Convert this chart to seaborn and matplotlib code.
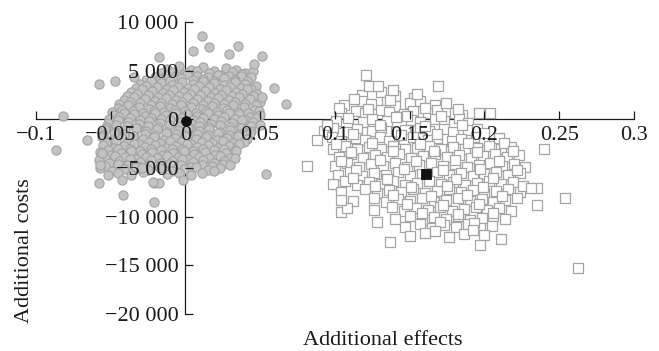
import matplotlib
matplotlib.use("Agg")
import matplotlib.pyplot as plt
import seaborn as sns

sns.set_style("ticks")
plt.rcParams['font.family'] = ['Liberation Serif', 'DejaVu Serif']

# Cloud 1: grey circles (additional effects, additional costs)
circle_effects = [
    -0.012, -0.004, 0.004, 0.012, 0.019, 0.027, 0.034, 0.040,
    -0.016, -0.009, -0.001, 0.008, 0.016, 0.023, 0.031, 0.038, 0.045,
    -0.020, -0.013, -0.006, 0.001, 0.008, 0.015, 0.022, 0.029, 0.037, 0.044,
    -0.026, -0.017, -0.010, -0.003, 0.005, 0.012, 0.019, 0.026, 0.033, 0.041,
    -0.030, -0.023, -0.016, -0.009, -0.002, 0.005, 0.012, 0.019, 0.026, 0.033, 0.040, 0.047,
    -0.033, -0.026, -0.019, -0.012, -0.005, 0.002, 0.009, 0.016, 0.023, 0.030, 0.037, 0.044,
    -0.036, -0.029, -0.022, -0.015, -0.008, -0.001, 0.006, 0.013, 0.020, 0.027, 0.034, 0.041, 0.048,
    -0.039, -0.032, -0.025, -0.018, -0.011, -0.004, 0.003, 0.010, 0.017, 0.024, 0.031, 0.038, 0.045,
    -0.041, -0.034, -0.027, -0.020, -0.013, -0.006, 0.001, 0.008, 0.015, 0.022, 0.029, 0.036, 0.043, 0.050,
    -0.044, -0.037, -0.030, -0.023, -0.016, -0.009, -0.002, 0.005, 0.012, 0.019, 0.026, 0.033, 0.040, 0.047,
    -0.045, -0.038, -0.031, -0.024, -0.017, -0.010, -0.003, 0.004, 0.011, 0.018, 0.025, 0.032, 0.039, 0.046,
    -0.049, -0.042, -0.035, -0.028, -0.021, -0.014, -0.007, 0.000, 0.007, 0.014, 0.021, 0.028, 0.035, 0.042, 0.049,
    -0.048, -0.041, -0.034, -0.027, -0.020, -0.013, -0.006, 0.001, 0.008, 0.015, 0.022, 0.029, 0.036, 0.043, 0.050,
    -0.051, -0.044, -0.037, -0.030, -0.023, -0.016, -0.009, -0.002, 0.005, 0.012, 0.019, 0.026, 0.033, 0.040, 0.047,
    -0.052, -0.045, -0.038, -0.031, -0.024, -0.017, -0.010, -0.003, 0.004, 0.010, 0.017, 0.024, 0.031, 0.038, 0.045,
    -0.053, -0.046, -0.039, -0.032, -0.025, -0.018, -0.011, -0.004, 0.003, 0.009, 0.016, 0.023, 0.030, 0.037, 0.044, 0.050,
    -0.054, -0.047, -0.040, -0.033, -0.026, -0.019, -0.012, -0.005, 0.002, 0.009, 0.016, 0.023, 0.030, 0.037, 0.044,
    -0.055, -0.048, -0.041, -0.034, -0.027, -0.020, -0.013, -0.006, 0.001, 0.008, 0.015, 0.022, 0.029, 0.036, 0.043,
    -0.056, -0.049, -0.042, -0.035, -0.028, -0.021, -0.014, -0.007, 0.000, 0.007, 0.014, 0.021, 0.028, 0.035, 0.041,
    -0.053, -0.046, -0.038, -0.031, -0.024, -0.017, -0.010, -0.003, 0.004, 0.011, 0.018, 0.025, 0.032, 0.039,
    -0.055, -0.048, -0.041, -0.034, -0.027, -0.020, -0.013, -0.006, 0.001, 0.008, 0.015, 0.022, 0.029, 0.036,
    -0.052, -0.045, -0.037, -0.030, -0.023, -0.016, -0.009, -0.002, 0.005, 0.012, 0.019, 0.026, 0.033,
    -0.057, -0.050, -0.043, -0.036, -0.029, -0.022, -0.015, -0.008, -0.001, 0.006, 0.013, 0.020, 0.027, 0.034,
    -0.054, -0.047, -0.040, -0.033, -0.026, -0.019, -0.012, -0.005, 0.002, 0.009, 0.016, 0.023, 0.030,
    -0.058, -0.051, -0.044, -0.037, -0.030, -0.023, -0.016, -0.009, -0.002, 0.005, 0.012, 0.019, 0.026, 0.033,
    -0.054, -0.045, -0.038, -0.031, -0.024, -0.017, -0.010, -0.003, 0.004, 0.011, 0.018, 0.025,
    -0.057, -0.049, -0.041, -0.033, -0.025, -0.017, -0.009, -0.001, 0.007, 0.015, 0.023,
    -0.045, -0.036, -0.028, -0.012, -0.004, 0.004,
    # scattered outer points
    0.0114, 0.016, 0.0355, 0.0054, 0.0295, 0.0515, 0.046, -0.0174, -0.0576, -0.047,
    -0.034, 0.059, 0.067, 0.0515, -0.0817, -0.0863, -0.0656, 0.054, 0.030, 0.0194,
    0.0114, -0.0576, -0.0415, -0.0207, -0.0013, -0.0207, -0.0174, -0.042, -0.0515, -0.0214,
    -0.029, -0.0556, -0.057,
]
circle_costs = [
    5200, 5500, 5100, 5400, 5000, 5300, 5100, 4800,
    4800, 4900, 4700, 5000, 4800, 4600, 4900, 4700, 5000,
    4300, 4600, 4400, 4700, 4500, 4300, 4600, 4400, 4500, 4300,
    4000, 4100, 3900, 4200, 4000, 4100, 3900, 4200, 4000, 3900,
    3600, 3900, 3700, 3500, 3800, 3600, 3900, 3700, 3500, 3800, 3600, 3400,
    3200, 3400, 3300, 3100, 3300, 3200, 3400, 3300, 3100, 3300, 3200, 3100,
    2800, 3100, 2900, 2700, 3000, 2800, 3100, 2900, 2700, 3000, 2800, 3100, 2600,
    2400, 2600, 2500, 2300, 2500, 2400, 2600, 2500, 2300, 2500, 2400, 2600, 2400,
    2000, 2300, 2100, 1900, 2200, 2000, 2300, 2100, 1900, 2200, 2000, 2300, 2100, 1800,
    1600, 1800, 1700, 1500, 1700, 1600, 1800, 1700, 1500, 1700, 1600, 1800, 1600, 1500,
    1200, 1500, 1300, 1100, 1400, 1200, 1500, 1300, 1100, 1400, 1200, 1500, 1300, 1000,
    800, 1000, 900, 700, 900, 800, 1000, 900, 700, 900, 800, 1000, 800, 700, 900,
    400, 700, 500, 300, 600, 400, 700, 500, 300, 600, 400, 700, 500, 200, 400,
    0, 200, 100, -100, 100, 0, 200, 100, -100, 100, 0, 200, 0, -100, 100,
    -400, -100, -300, -500, -200, -400, -100, -300, -500, -300, -500, -200, -400, -100, -300,
    -800, -600, -700, -900, -700, -800, -600, -700, -900, -700, -800, -600, -800, -900, -700, -600,
    -1000, -1300, -1100, -900, -1200, -1000, -1300, -1100, -900, -1200, -1000, -1300, -1100, -900, -1200,
    -1600, -1400, -1500, -1700, -1500, -1600, -1400, -1500, -1700, -1500, -1600, -1400, -1600, -1500, -1400,
    -1800, -2100, -1900, -1700, -2000, -1800, -2100, -1900, -1700, -2000, -1800, -2100, -1900, -1700, -2000,
    -2400, -2200, -2300, -2500, -2300, -2400, -2200, -2300, -2500, -2300, -2400, -2200, -2400, -2300,
    -2600, -2900, -2700, -2500, -2800, -2600, -2900, -2700, -2500, -2800, -2600, -2900, -2700, -2500,
    -3200, -3000, -3100, -3300, -3100, -3200, -3000, -3100, -3300, -3100, -3200, -3000, -3200,
    -3400, -3700, -3500, -3300, -3600, -3400, -3700, -3500, -3300, -3600, -3400, -3700, -3500, -3300,
    -4000, -3800, -3900, -4100, -3900, -4000, -3800, -3900, -4100, -3900, -4000, -3800, -4000,
    -4200, -4500, -4300, -4100, -4400, -4200, -4500, -4300, -4100, -4400, -4200, -4500, -4300, -4000,
    -4800, -4600, -4700, -4900, -4700, -4800, -4600, -4700, -4900, -4700, -4800, -4600,
    -5000, -5300, -5100, -4900, -5200, -5000, -5300, -5100, -4900, -5200, -5000,
    -5500, -5700, -5400, -5600, -5500, -5700,
    8520, 7390, 7500, 6980, 6680, 6470, 5650, 6370, 3590, 3900,
    4310, 3180, 1540, 2260, 310, -3180, -2160, -5650, -4720, -5340,
    -5540, -6570, -7800, -8520, -6260, -6570, -6570, -6260, -5750, -6470,
    -5030, -3490, -4720,
]

# Cloud 2: open squares
square_effects = [
    0.118, 0.131, 0.140, 0.153,
    0.106, 0.118, 0.124, 0.135, 0.140, 0.150, 0.157, 0.167,
    0.104, 0.114, 0.120, 0.131, 0.136, 0.146, 0.152, 0.162, 0.168, 0.180, 0.185,
    0.101, 0.109, 0.119, 0.125, 0.135, 0.141, 0.151, 0.157, 0.167, 0.173, 0.183, 0.189,
    0.093, 0.099, 0.109, 0.115, 0.125, 0.131, 0.141, 0.147, 0.157, 0.163, 0.173, 0.179, 0.189, 0.195,
    0.088, 0.098, 0.104, 0.114, 0.120, 0.130, 0.136, 0.146, 0.152, 0.162, 0.168, 0.178, 0.184, 0.194, 0.200, 0.210,
    0.099, 0.107, 0.115, 0.123, 0.131, 0.139, 0.147, 0.155, 0.163, 0.171, 0.179, 0.187, 0.195, 0.203, 0.211, 0.218,
    0.103, 0.111, 0.119, 0.127, 0.135, 0.143, 0.151, 0.159, 0.167, 0.175, 0.183, 0.191, 0.199, 0.207, 0.215, 0.223,
    0.100, 0.108, 0.116, 0.124, 0.132, 0.140, 0.148, 0.156, 0.164, 0.172, 0.180, 0.188, 0.196, 0.204, 0.212, 0.220, 0.227,
    0.102, 0.110, 0.118, 0.126, 0.134, 0.142, 0.150, 0.158, 0.168, 0.176, 0.184, 0.192, 0.200, 0.208, 0.216, 0.224,
    0.099, 0.107, 0.115, 0.123, 0.131, 0.139, 0.147, 0.155, 0.163, 0.171, 0.179, 0.187, 0.195, 0.203, 0.211, 0.219,
    0.104, 0.120, 0.128, 0.136, 0.144, 0.152, 0.160, 0.168, 0.176, 0.184, 0.192, 0.200, 0.208, 0.216, 0.224,
    0.112, 0.126, 0.134, 0.142, 0.150, 0.158, 0.166, 0.174, 0.182, 0.190, 0.198, 0.206, 0.214, 0.222,
    0.126, 0.138, 0.146, 0.154, 0.162, 0.170, 0.178, 0.186, 0.194, 0.202, 0.210, 0.218,
    0.140, 0.150, 0.158, 0.166, 0.174, 0.182, 0.190, 0.198, 0.206, 0.214,
    0.147, 0.157, 0.165, 0.173, 0.181, 0.189, 0.197, 0.205,
    0.150, 0.160, 0.176, 0.186, 0.200,
    # squares lying between the rows
    0.113, 0.137, 0.160, 0.122, 0.148, 0.171, 0.095, 0.130, 0.160, 0.185,
    0.112, 0.144, 0.168, 0.200, 0.101, 0.125, 0.157, 0.189, 0.213, 0.111,
    0.139, 0.166, 0.195, 0.219, 0.104, 0.130, 0.154, 0.180, 0.210, 0.114,
    0.146, 0.172, 0.197, 0.222, 0.112, 0.135, 0.181, 0.206, 0.127, 0.151,
    0.175, 0.199, 0.226, 0.139, 0.164, 0.188, 0.212, 0.148, 0.172, 0.196,
    0.158, 0.182, 0.206, 0.170, 0.193, 0.167, 0.192,
    # scattered outer points
    0.121, 0.169, 0.1225, 0.129, 0.139, 0.155, 0.1025, 0.174, 0.182, 0.196,
    0.2035, 0.2396, 0.2537, 0.2623, 0.0815, 0.197, 0.137, 0.211, 0.235, 0.235,
    0.231, 0.104, 0.108, 0.128, 0.104,
]
square_costs = [
    2500, 2800, 2400, 2200,
    1500, 1900, 1600, 1800, 1400, 1700, 1900, 1500,
    700, 900, 600, 1000, 800, 500, 900, 700, 1000, 600, 400,
    -200, 100, -300, 0, -200, 200, -100, -300, 0, -200, 100, -400,
    -1200, -900, -1300, -1000, -1200, -900, -1300, -1100, -900, -1200, -1000, -1300, -1100, -1000,
    -2100, -1800, -2200, -1900, -2100, -1800, -2200, -2000, -1800, -2100, -1900, -2200, -2000, -1800, -2100, -1900,
    -3000, -2700, -3100, -2800, -3000, -2700, -3100, -2900, -2700, -3000, -2800, -3100, -2900, -2700, -3000, -2800,
    -3900, -3600, -4000, -3700, -3900, -3600, -4000, -3800, -3600, -3900, -3700, -4000, -3800, -3600, -3900, -3700,
    -4800, -4500, -4900, -4600, -4800, -4500, -4900, -4700, -4500, -4800, -4600, -4900, -4700, -4500, -4800, -4600, -4900,
    -5700, -5400, -5800, -5500, -5700, -5400, -5800, -5600, -5400, -5700, -5500, -5800, -5600, -5400, -5700, -5500,
    -6600, -6300, -6700, -6400, -6600, -6300, -6700, -6500, -6300, -6600, -6400, -6700, -6500, -6300, -6600, -6400,
    -7500, -7200, -7600, -7300, -7500, -7200, -7600, -7400, -7200, -7500, -7300, -7600, -7400, -7200, -7500,
    -8400, -8100, -8500, -8200, -8400, -8100, -8500, -8300, -8100, -8400, -8200, -8500, -8300, -8100,
    -9300, -9000, -9400, -9100, -9300, -9000, -9400, -9200, -9000, -9300, -9100, -9400,
    -10200, -9900, -10300, -10000, -10200, -9900, -10300, -10100, -9900, -10200,
    -11100, -10800, -11200, -10900, -11100, -10800, -11200, -11000,
    -12000, -11700, -12100, -11800, -11900,
    2100, 2000, 1200, 1100, 300, 300, -600, -600, -700, -600,
    -1500, -1600, -1500, -1400, -2500, -2400, -2500, -2400, -2400, -3400,
    -3300, -3300, -3400, -3300, -4300, -4200, -4300, -4200, -4300, -5200,
    -5100, -5200, -5100, -5200, -6000, -6100, -6100, -6000, -6900, -7000,
    -6900, -7000, -6900, -7800, -7900, -7800, -7900, -8700, -8800, -8700,
    -9600, -9700, -9600, -10500, -10600, -11500, -11400,
    4520, 3390, 3390, 3390, 2980, 2570, 1130, 1640, 1030, 620,
    620, -3080, -8110, -15300, -4800, -12940, -12630, -12320, -7090, -8830,
    -7090, -9550, -9140, -10580, -8320,
]

# Mean of each cloud
mean_effects = [0.0005, 0.161]
mean_costs = [-200, -5580]

assert len(circle_effects) == len(circle_costs)
assert len(square_effects) == len(square_costs)

x_ticks = [-0.1, -0.05, 0, 0.05, 0.1, 0.15, 0.2, 0.25, 0.3]
x_tick_labels = ["\u22120.1", "\u22120.05", "0", "0.05", "0.1", "0.15", "0.2", "0.25", "0.3"]
y_ticks = [-20000, -15000, -10000, -5000, 0, 5000, 10000]
y_tick_labels = ["\u221220 000", "\u221215 000", "\u221210 000", "\u22125 000", "0", "5 000", "10 000"]

fig = plt.figure(figsize=(6.59, 3.51), dpi=100)
ax = fig.add_axes([0.0542, 0.1054, 0.908, 0.832])

sns.scatterplot(x=circle_effects, y=circle_costs, marker="o", s=44,
                color="#c3c3c3", edgecolor="#a2a2a2", linewidth=0.8,
                ax=ax, zorder=3, clip_on=False)
sns.scatterplot(x=square_effects, y=square_costs, marker="s", s=62,
                color="white", edgecolor="#a4a4a4", linewidth=0.9,
                ax=ax, zorder=3, clip_on=False)
sns.scatterplot(x=mean_effects[:1], y=mean_costs[:1], marker="o", s=50,
                color="#111111", edgecolor="#111111", ax=ax, zorder=5)
sns.scatterplot(x=mean_effects[1:], y=mean_costs[1:], marker="s", s=55,
                color="#111111", edgecolor="#111111", ax=ax, zorder=5)

ax.set_xlim(-0.1, 0.3)
ax.set_ylim(-20000, 10000)
ax.spines["left"].set_position(("data", 0))
ax.spines["bottom"].set_position(("data", 0))
ax.spines["top"].set_visible(False)
ax.spines["right"].set_visible(False)
for side in ["left", "bottom"]:
    ax.spines[side].set_linewidth(0.9)
    ax.spines[side].set_color("#1a1a1a")
    ax.spines[side].set_zorder(2)

# tick labels sit on top of the point clouds, the axis lines under them
ax.xaxis.set_zorder(4)
ax.yaxis.set_zorder(4)

ax.set_xticks(x_ticks)
ax.set_xticklabels(x_tick_labels)
ax.set_yticks(y_ticks)
ax.set_yticklabels(y_tick_labels)
ax.tick_params(axis="both", direction="in", length=6, width=0.9,
               color="#1a1a1a", labelsize=16, labelcolor="#1a1a1a")
ax.tick_params(axis="x", pad=5)
ax.tick_params(axis="y", pad=5)

ax.set_xlabel("Additional effects", fontsize=16, color="#1a1a1a")
ax.set_ylabel("Additional costs", fontsize=16, color="#1a1a1a")
ax.xaxis.set_label_coords(0.58, -0.092)
ax.yaxis.set_label_coords(-0.018, 0.216)
ax.xaxis.label.set_va("center")
ax.yaxis.label.set_va("center")

fig.savefig("out.png", dpi=100, facecolor="white")
